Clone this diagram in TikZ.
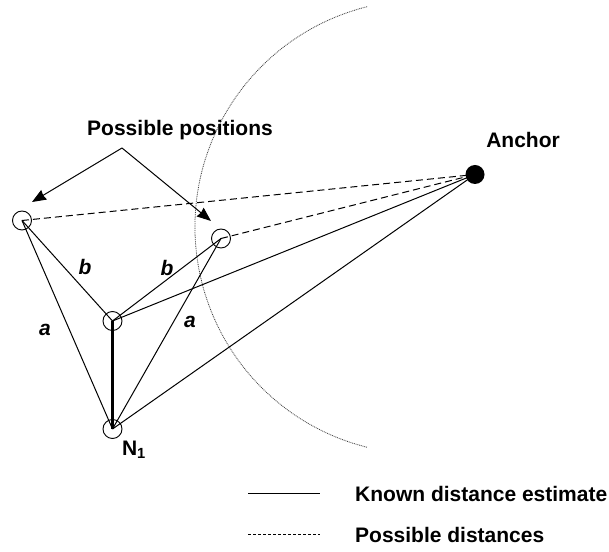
\documentclass[tikz,border=0pt]{standalone}
\usepackage{fontspec}
\setmainfont{Liberation Sans}
\usetikzlibrary{arrows.meta}
\begin{document}
\begin{tikzpicture}[x=1pt,y=1pt,
  txt/.style={font=\fontsize{21}{24}\selectfont\bfseries, inner sep=0pt},
  itxt/.style={font=\fontsize{21}{24}\selectfont\bfseries\itshape, inner sep=0pt},
  posnode/.style={draw, circle, line width=0.9pt, minimum size=19pt, inner sep=0pt},
  anchornode/.style={fill=black, circle, minimum size=19pt, inner sep=0pt},
  known/.style={line width=1pt},
  possible/.style={line width=1pt, dash pattern=on 7pt off 4pt},
  pointer/.style={line width=1pt, -{Stealth[length=14pt,width=11pt,inset=1pt]}},
  rangearc/.style={line width=0.8pt, black!75, dash pattern=on 0.9pt off 0.9pt}
]
\useasboundingbox (0,0) rectangle (609,551);
% range arc
\draw[rangearc] (422,324) ++(104:227) arc[start angle=104, end angle=256, radius=227];
% nodes
\node[posnode] (p1) at (22,330.5) {};
\node[posnode] (p2) at (221,312.5) {};
\node[posnode] (m) at (112.5,230) {};
\node[posnode] (n1) at (112.5,122) {};
\node[anchornode] (anc) at (475,376.5) {};
% possible distances
\draw[possible] (p1.center) -- (anc.center);
\draw[possible] (p2.center) -- (anc.center);
% known distances
\draw[known] (p1.center) -- (m.center);
\draw[known] (p1.center) -- (n1.center);
\draw[known] (p2.center) -- (m.center);
\draw[known] (p2.center) -- (n1.center);
\draw[known] (m.center) -- (anc.center);
\draw[known] (n1.center) -- (anc.center);
\draw[line width=3pt] (m.center) -- (n1.center);
% labels
\node[txt] (pp) at (180,421) {Possible positions};
\coordinate (apex) at (122,403);
\coordinate (tipl) at (32,349);
\coordinate (tipr) at (211,330);
\draw[pointer] (apex) -- (tipl);
\draw[pointer] (apex) -- (tipr);
\node[txt] (anclabel) at (523,411) {Anchor};
\node[itxt] (bl) at (85,284) {b};
\node[itxt] (br) at (167,283) {b};
\node[itxt] (al) at (45,221) {a};
\node[itxt] (ar) at (190,229) {a};
\node[txt] (n1label) at (134,101) {N$_{\mathbf{1}}$};
% legend
\coordinate (ks) at (248,58);
\coordinate (ke) at (320,58);
\coordinate (ps) at (248,17);
\coordinate (pe) at (320,17);
\draw[line width=1pt] (ks) -- (ke);
\draw[line width=1pt, dash pattern=on 3pt off 2pt] (ps) -- (pe);
\node[txt, anchor=west] (kl) at (355,57) {Known distance estimate};
\node[txt, anchor=west] (pl) at (355,16) {Possible distances};
\end{tikzpicture}
\end{document}
